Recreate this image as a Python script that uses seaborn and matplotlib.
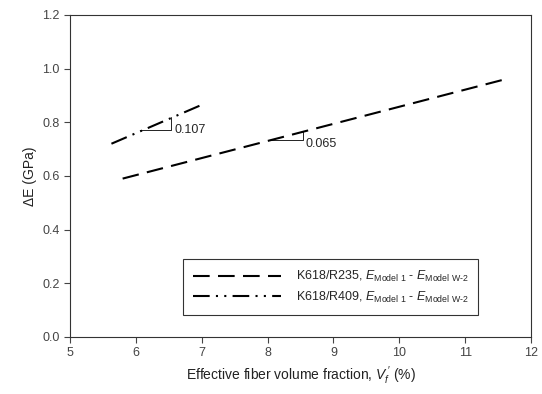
import pandas as pd
import seaborn as sns
import matplotlib.pyplot as plt

# endpoints of the two linear fits
vf_r235 = [5.8, 11.6]
de_r235 = [0.59, 0.96]
vf_r409 = [5.63, 7.0]
de_r409 = [0.72, 0.865]

slope_labels = ["0.107", "0.065"]

sns.set_theme(style="white")
plt.rcParams["font.family"] = ["Liberation Sans", "DejaVu Sans"]
plt.rcParams["mathtext.fontset"] = "custom"
plt.rcParams["mathtext.rm"] = "Liberation Sans"
plt.rcParams["mathtext.it"] = "Liberation Sans:italic"

df = pd.concat([
    pd.DataFrame({"vf": vf_r235, "dE": de_r235, "set": "R235"}),
    pd.DataFrame({"vf": vf_r409, "dE": de_r409, "set": "R409"}),
])

fig = plt.figure(figsize=(5.42, 3.94), dpi=100)
ax = fig.add_axes([0.129, 0.145, 0.851, 0.817])

lab1 = r"K618/R235, $E_{\text{Model 1}}$ - $E_{\text{Model W-2}}$"
lab2 = r"K618/R409, $E_{\text{Model 1}}$ - $E_{\text{Model W-2}}$"

d1 = df[df["set"] == "R235"]
d2 = df[df["set"] == "R409"]
sns.lineplot(data=d1, x="vf", y="dE", ax=ax, color="black", lw=1.5,
             label=lab1, dashes=False)
sns.lineplot(data=d2, x="vf", y="dE", ax=ax, color="black", lw=1.5,
             label=lab2, dashes=False)
ax.lines[0].set_dashes([8, 4])
ax.lines[1].set_dashes([8, 3, 1, 3, 1, 3])

# slope triangles
ax.plot([6.06, 6.53, 6.53], [0.771, 0.771, 0.821], color="black", lw=0.6)
ax.text(6.58, 0.771, slope_labels[0], ha="left", va="center", fontsize=9)
ax.plot([8.04, 8.53, 8.53], [0.734, 0.734, 0.766], color="black", lw=0.6)
ax.text(8.58, 0.72, slope_labels[1], ha="left", va="center", fontsize=9)

ax.set_xlim(5, 12)
ax.set_ylim(0, 1.2)
ax.set_xticks(range(5, 13))
ax.set_yticks([0, 0.2, 0.4, 0.6, 0.8, 1.0, 1.2])
ax.set_yticklabels(["0.0", "0.2", "0.4", "0.6", "0.8", "1.0", "1.2"])
ax.tick_params(axis="both", which="both", direction="out", length=4,
               width=0.8, labelsize=9, colors="#444444", left=True, bottom=True)
for s in ax.spines.values():
    s.set_color("#333333")
    s.set_linewidth(0.8)

ax.set_xlabel(r"Effective fiber volume fraction, $V_f^{\,\prime}$ (%)", fontsize=10, color="#222222")
ax.set_ylabel("ΔE (GPa)", fontsize=10, color="#222222")

leg = ax.legend(loc="lower left", bbox_to_anchor=(0.232, 0.05), fontsize=9,
                frameon=True, fancybox=False, edgecolor="black",
                handlelength=7, handletextpad=1.2, borderpad=0.8,
                labelspacing=0.4)
leg.get_frame().set_linewidth(0.8)

fig.savefig("out.png", dpi=100)
